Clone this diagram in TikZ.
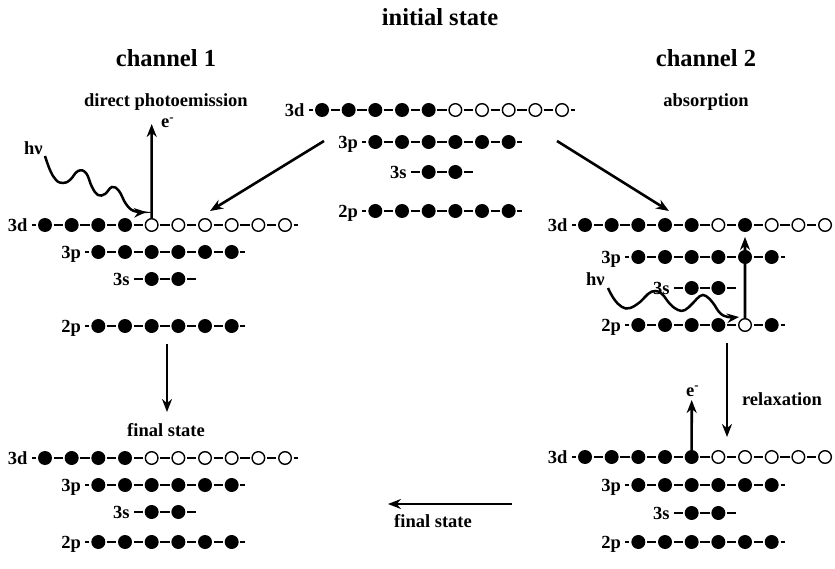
\documentclass[tikz,border=0pt]{standalone}
\usepackage{fontspec}
\setmainfont{Liberation Serif}
\usetikzlibrary{arrows.meta}
\tikzset{
 fe/.style={circle, fill=black, inner sep=0pt, minimum size=14pt},
 oe/.style={circle, draw=black, fill=white, line width=1.4pt, inner sep=0pt, minimum size=12.6pt},
 dashln/.style={line width=2pt},
 lbl/.style={font=\fontsize{18.5}{20}\selectfont\bfseries, inner sep=0pt},
 ttl/.style={font=\fontsize{24.5}{26}\selectfont\bfseries, inner sep=0pt},
 arr/.style={line width=2.6pt, -{Stealth[length=13pt,width=10pt]}},
 wav/.style={line width=2.5pt, -{Stealth[length=12pt,width=9.5pt]}},
}
% #1 prefix, #2 x of column 0, #3 y, #4 label, #5 first col, #6 last col,
% #7 list of states, #8 outer dash length, #9 trailing dash (1/0)
\newcommand{\orbrow}[9]{%
 \foreach \s [count=\k from #5] in {#7} {
   \node[\s] (#1-\k) at ({#2+\k*26.67},#3) {};
   \ifnum\k>#5\relax
     \pgfmathtruncatemacro\prv{\k-1}
     \draw[dashln] ([xshift=1.6pt]#1-\prv.east) -- ([xshift=-1.6pt]#1-\k.west);
   \fi
 }
 \draw[dashln] ([xshift=-1.8pt]#1-#5.west) -- ++(-#8,0) coordinate (#1-ld);
 \node[lbl, anchor=base east] (#1-lbl) at ([xshift=-3.8pt,yshift=-6.5pt]#1-ld) {#4};
 \ifnum#9=1 \draw[dashln] ([xshift=1.6pt]#1-#6.east) -- ++(#8,0);\fi
}
\begin{document}
\begin{tikzpicture}[x=1pt,y=-1pt]
\useasboundingbox (0,0) rectangle (835,569);

% titles
\node[ttl, anchor=base] (tinit) at (440,26) {initial state};
\node[ttl, anchor=base] (tch1) at (166,67) {channel 1};
\node[ttl, anchor=base] (tch2) at (706,67) {channel 2};
\node[lbl, anchor=base] (tdir) at (166,107) {direct photoemission};
\node[lbl, anchor=base] (tabs) at (706,107) {absorption};
\node[lbl, anchor=base] (tfin1) at (166,436) {final state};
\node[lbl, anchor=base] (tfin2) at (433,527) {final state};
\node[lbl, anchor=base] (trel) at (782,405) {relaxation};

% centre (initial state)
\orbrow{C3d}{322}{110}{3d}{0}{9}{fe,fe,fe,fe,fe,oe,oe,oe,oe,oe}{4.5}{1}
\orbrow{C3p}{322}{142}{3p}{2}{7}{fe,fe,fe,fe,fe,fe}{4.5}{1}
\orbrow{C3s}{322}{172}{3s}{4}{5}{fe,fe}{9}{1}
\orbrow{C2p}{322}{211}{2p}{2}{7}{fe,fe,fe,fe,fe,fe}{4.5}{1}

% channel 1, intermediate
\orbrow{L3d}{45}{225}{3d}{0}{9}{fe,fe,fe,fe,oe,oe,oe,oe,oe,oe}{4.5}{1}
\orbrow{L3p}{45}{252}{3p}{2}{7}{fe,fe,fe,fe,fe,fe}{4.5}{1}
\orbrow{L3s}{45}{279}{3s}{4}{5}{fe,fe}{9}{1}
\orbrow{L2p}{45}{326}{2p}{2}{7}{fe,fe,fe,fe,fe,fe}{4.5}{1}

% channel 1, final
\orbrow{F3d}{45}{458}{3d}{0}{9}{fe,fe,fe,fe,oe,oe,oe,oe,oe,oe}{4.5}{1}
\orbrow{F3p}{45}{485}{3p}{2}{7}{fe,fe,fe,fe,fe,fe}{4.5}{1}
\orbrow{F3s}{45}{512}{3s}{4}{5}{fe,fe}{9}{1}
\orbrow{F2p}{45}{542}{2p}{2}{7}{fe,fe,fe,fe,fe,fe}{4.5}{1}

% channel 2, absorption
\orbrow{R3d}{585}{225}{3d}{0}{9}{fe,fe,fe,fe,fe,oe,fe,oe,oe,oe}{4.5}{0}
\orbrow{R3p}{585}{257}{3p}{2}{7}{fe,fe,fe,fe,fe,fe}{4.5}{1}
\orbrow{R3s}{585}{288}{3s}{4}{5}{fe,fe}{9}{1}
\orbrow{R2p}{585}{325}{2p}{2}{7}{fe,fe,fe,fe,oe,fe}{4.5}{1}

% channel 2, final
\orbrow{G3d}{585}{457}{3d}{0}{9}{fe,fe,fe,fe,fe,oe,oe,oe,oe,oe}{4.5}{0}
\orbrow{G3p}{585}{485}{3p}{2}{7}{fe,fe,fe,fe,fe,fe}{4.5}{1}
\orbrow{G3s}{585}{513}{3s}{4}{5}{fe,fe}{9}{1}
\orbrow{G2p}{585}{542}{2p}{2}{7}{fe,fe,fe,fe,fe,fe}{4.5}{1}

% electron / photon labels
\node[lbl, anchor=base west] (eL) at (161,128) {e\textsuperscript{-}};
\node[lbl, anchor=base west] (eG) at (686,396) {e\textsuperscript{-}};
\node[lbl, anchor=base west] (hvL) at (24,155) {hν};
\node[lbl, anchor=base west] (hvR) at (586,286) {hν};

% arrows
\coordinate (a1s) at (324,141); \coordinate (a1e) at (210,211);
\coordinate (a2s) at (557,141); \coordinate (a2e) at (669,211);
\coordinate (eLt) at (151.7,124);
\coordinate (a4s) at (167,344); \coordinate (a4e) at (167,412);
\coordinate (a5e) at (745,237);
\coordinate (a6s) at (727,343); \coordinate (a6e) at (727,437);
\coordinate (eGt) at (691.7,400);
\coordinate (a8s) at (512,504); \coordinate (a8e) at (388,504);

\draw[arr] (a1s) -- (a1e);
\draw[arr] (a2s) -- (a2e);
\draw[arr] (L3d-4.north) -- (eLt);
\draw[arr] (a4s) -- (a4e);
\draw[arr] (R2p-6.north) -- (a5e);
\draw[arr] (a6s) -- (a6e);
\draw[arr] (G3d-4.north) -- (eGt);
\draw[arr] (a8s) -- (a8e);

% photons
\draw[wav] plot[smooth, tension=0.7] coordinates {(45,156) (50,170) (56,180) (63,183) (70,180) (78,171) (86,173) (92,187) (98,195) (105,194) (112,187) (119,191) (126,204) (134,211) (146,212)};
\draw[wav] plot[smooth, tension=0.7] coordinates {(608,288) (614,299) (622,307) (630,308) (640,302) (648,294) (655,291) (662,294) (670,304) (678,310) (685,310) (693,303) (700,296) (706,296) (713,303) (720,313) (728,317) (739,317)};
\end{tikzpicture}
\end{document}
